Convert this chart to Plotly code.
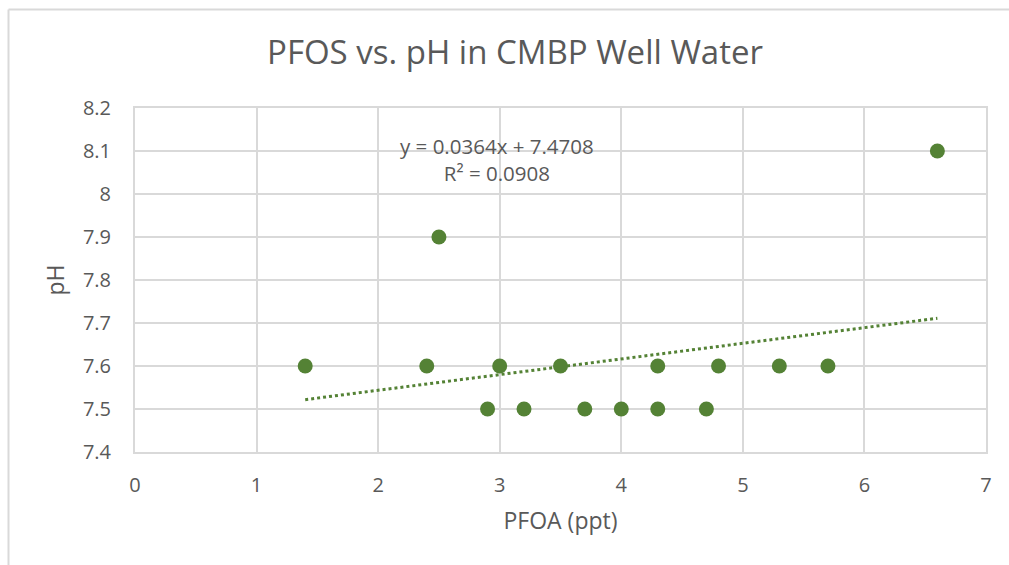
import numpy as np
import plotly.graph_objects as go

pfoa = [1.4, 2.4, 2.5, 2.9, 3.0, 3.2, 3.5, 3.7, 4.0, 4.3, 4.3, 4.7, 4.8, 5.3, 5.7, 6.6]
ph = [7.6, 7.6, 7.9, 7.5, 7.6, 7.5, 7.6, 7.5, 7.5, 7.6, 7.5, 7.5, 7.6, 7.6, 7.6, 8.1]
x_ticks = [0, 1, 2, 3, 4, 5, 6, 7]
y_ticks = [7.4, 7.5, 7.6, 7.7, 7.8, 7.9, 8.0, 8.1, 8.2]
y_tick_text = ["7.4", "7.5", "7.6", "7.7", "7.8", "7.9", "8", "8.1", "8.2"]

slope, intercept = np.polyfit(pfoa, ph, 1)
pred = np.polyval([slope, intercept], pfoa)
r2 = 1 - np.sum((np.array(ph) - pred) ** 2) / np.sum((np.array(ph) - np.mean(ph)) ** 2)
x_fit = [min(pfoa), max(pfoa)]
y_fit = [slope * v + intercept for v in x_fit]

GREEN = "#548235"
TXT = "#595959"
GRID = "#d9d9d9"
FONT = "Open Sans"

fig = go.Figure()
fig.add_trace(go.Scatter(x=x_fit, y=y_fit, mode="lines",
                         line=dict(color=GREEN, width=3, dash="dot"),
                         hoverinfo="skip", showlegend=False))
fig.add_trace(go.Scatter(x=pfoa, y=ph, mode="markers",
                         marker=dict(color=GREEN, size=15, line=dict(width=0)),
                         showlegend=False))

fig.add_annotation(x=2.978, y=8.080, xref="x", yref="y",
                   text=f"y = {slope:.4f}x + {intercept:.4f}<br>R² = {r2:.4f}",
                   showarrow=False, align="center",
                   font=dict(family=FONT, size=20.5, color=TXT))

W, H = 1009, 565
ml, mr, mt, mb = 135, 23, 108, 113
pw, ph_ = W - ml - mr, H - mt - mb
# outer chart border (in paper coordinates)
bx0 = (8.5 - ml) / pw
by1 = 1 + (mt - 9.5) / ph_
fig.add_shape(type="line", xref="paper", yref="paper", x0=bx0, x1=1.2, y0=by1, y1=by1,
              line=dict(color=GRID, width=2))
fig.add_shape(type="line", xref="paper", yref="paper", x0=bx0, x1=bx0, y0=by1, y1=-0.5,
              line=dict(color=GRID, width=2))

fig.update_layout(
    width=W, height=H,
    margin=dict(l=ml, r=mr, t=mt, b=mb),
    paper_bgcolor="white", plot_bgcolor="white",
    font=dict(family=FONT, color=TXT),
    title=dict(text="PFOS vs. pH in CMBP Well Water", x=515 / W, xanchor="center",
               y=1 - 52 / H, yanchor="middle", yref="container",
               font=dict(family=FONT, size=33, color=TXT)),
    xaxis=dict(range=[0, 7], tickvals=x_ticks, showgrid=True, gridcolor=GRID, gridwidth=1.5,
               showline=True, linecolor=GRID, linewidth=2, mirror=True, zeroline=False,
               ticks="outside", ticklen=14, tickcolor="rgba(0,0,0,0)",
               tickfont=dict(family=FONT, size=20, color=TXT),
               title=dict(text="PFOA (ppt)", standoff=16,
                          font=dict(family=FONT, size=23, color=TXT))),
    yaxis=dict(range=[7.4, 8.2], tickvals=y_ticks, ticktext=y_tick_text, showgrid=True,
               gridcolor=GRID, gridwidth=1.5, showline=True, linecolor=GRID, linewidth=2,
               mirror=True, zeroline=False,
               ticks="outside", ticklen=18, tickcolor="rgba(0,0,0,0)",
               tickfont=dict(family=FONT, size=20, color=TXT),
               title=dict(text="pH", standoff=12,
                          font=dict(family=FONT, size=23, color=TXT))),
)

fig.write_html("out.html")
